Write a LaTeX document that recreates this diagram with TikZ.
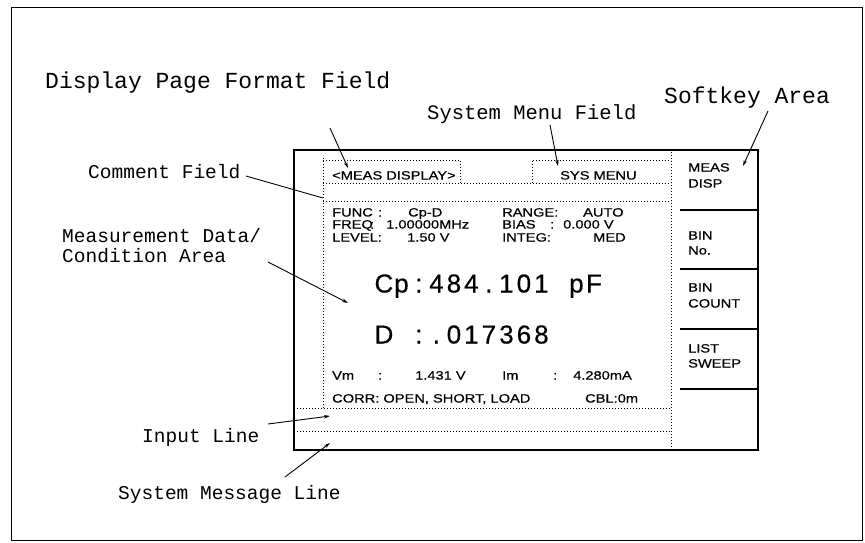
\documentclass[tikz,border=0pt]{standalone}
\usepackage{fontspec}
\usetikzlibrary{arrows.meta}
\newfontfamily\annfont{Liberation Mono}
\newfontfamily\scrfont[FakeStretch=1.22,FakeBold=0.6]{Liberation Sans}
\newfontfamily\bigfont[FakeBold=0.4]{Liberation Sans}
\makeatletter
\newcommand\gridtext[2]{\@tfor\gt@c:=#2\do{\makebox[#1][c]{\gt@c}}}
\makeatother
\tikzset{
  ann/.style={font={\annfont\fontsize{19.5}{20}\selectfont}, anchor=base west, inner sep=0pt},
  annbig/.style={font={\annfont\fontsize{23}{24}\selectfont}, anchor=base west, inner sep=0pt},
  annmid/.style={font={\annfont\fontsize{20.5}{22}\selectfont}, anchor=base west, inner sep=0pt},
  scr/.style={font={\scrfont\fontsize{12}{13}\selectfont}, anchor=base west, inner sep=0pt},
  bigtxt/.style={font={\bigfont\fontsize{26}{28}\selectfont}, anchor=base west, inner sep=0pt},
  dots/.style={line width=0.8pt, dash pattern=on 0.8pt off 2.2pt},
  callout/.style={line width=0.9pt, -{Stealth[length=6pt,width=3.5pt]}},
  solidframe/.style={line width=1.1pt}
}
\begin{document}
\begin{tikzpicture}[x=1pt,y=-1pt]
\useasboundingbox (0,0) rectangle (865,542);
% outer frame
\draw[line width=1pt] (11,7) rectangle (862,540);
% screen
\draw[solidframe] (294,150) rectangle (758,450);
% softkey dividers
\draw[solidframe] (680,210) -- (758,210);
\draw[solidframe] (680,269) -- (758,269);
\draw[solidframe] (680,329) -- (758,329);
\draw[solidframe] (680,389) -- (758,389);
% dotted structure
\draw[dots] (671,152) -- (671,450);
\draw[dots] (323,158) -- (323,408);
\draw[dots] (323,160) -- (460,160) -- (460,183);
\draw[dots] (532,183) -- (532,160) -- (671,160);
\draw[dots] (323,183) -- (671,183);
\draw[dots] (323,201) -- (671,201);
\draw[dots] (294,408) -- (671,408);
\draw[dots] (294,431) -- (671,431);
% header texts
\node[scr] (pg) at (332,179.5) {<MEAS DISPLAY>};
\node[scr] (sys) at (560,179.5) {SYS MENU};
% condition rows
\node[scr] (f1) at (332,216.5) {FUNC};
\node[scr] (f2) at (378,216.5) {:};
\node[scr] (f3) at (408,216.5) {Cp-D};
\node[scr] (f4) at (502,216.5) {RANGE:};
\node[scr] (f5) at (583,216.5) {AUTO};
\node[scr] (q1) at (332,228.5) {FREQ};
\node[scr] (q2) at (370,228.5) {:};
\node[scr] (q3) at (386,228.5) {1.00000MHz};
\node[scr] (q4) at (502,228.5) {BIAS};
\node[scr] (q5) at (550,228.5) {:};
\node[scr] (q6) at (563,228.5) {0.000 V};
\node[scr] (l1) at (332,241.5) {LEVEL:};
\node[scr] (l2) at (407,241.5) {1.50 V};
\node[scr] (l3) at (502,241.5) {INTEG:};
\node[scr] (l4) at (593,241.5) {MED};
% big values
\node[bigtxt] (cp) at (375,292.5) {\gridtext{17.5pt}{Cp:484.101~pF}};
\node[bigtxt] (dd) at (375,343.5) {\gridtext{17.5pt}{D~:.017368}};
% monitor rows
\node[scr] (v1) at (332,379.5) {Vm};
\node[scr] (v2) at (378,379.5) {:};
\node[scr] (v3) at (415,379.5) {1.431 V};
\node[scr] (v4) at (502,379.5) {Im};
\node[scr] (v5) at (553,379.5) {:};
\node[scr] (v6) at (573,379.5) {4.280mA};
\node[scr] (c1) at (332,402.5) {CORR: OPEN, SHORT, LOAD};
\node[scr] (c2) at (585,402.5) {CBL:0m};
% softkeys
\node[scr] (k1a) at (688,171.5) {MEAS};
\node[scr] (k1b) at (688,187.5) {DISP};
\node[scr] (k2a) at (688,239.5) {BIN};
\node[scr] (k2b) at (688,254.5) {No.};
\node[scr] (k3a) at (688,291.5) {BIN};
\node[scr] (k3b) at (688,307.5) {COUNT};
\node[scr] (k4a) at (688,352.5) {LIST};
\node[scr] (k4b) at (688,367.5) {SWEEP};
% annotation labels
\node[annbig] (tDisp) at (45,88) {Display Page Format Field};
\node[annmid] (tSys) at (427,119) {System Menu Field};
\node[annbig] (tSoft) at (664,103) {Softkey Area};
\node[ann] (tCom) at (88,178) {Comment Field};
\node[ann] (tMeas1) at (62,242) {Measurement Data/};
\node[ann] (tMeas2) at (62,262) {Condition Area};
\node[ann] (tIn) at (142,442) {Input Line};
\node[ann] (tMsg) at (118,499) {System Message Line};
% callout end points
\coordinate (aDispS) at (330,128);
\coordinate (aDispE) at (348,168);
\coordinate (aSysS) at (550,125);
\coordinate (aSysE) at (558,166);
\coordinate (aSoftS) at (768,111);
\coordinate (aSoftE) at (743,166);
\coordinate (aComS) at (246,176);
\coordinate (aComE) at (323,198);
\coordinate (aMeasS) at (268,262);
\coordinate (aMeasE) at (348,303);
\coordinate (aInS) at (268,424);
\coordinate (aInE) at (330,416);
\coordinate (aMsgS) at (285,477);
\coordinate (aMsgE) at (330,443);
\draw[callout] (aDispS) -- (aDispE);
\draw[callout] (aSysS) -- (aSysE);
\draw[callout] (aSoftS) -- (aSoftE);
\draw[line width=0.9pt] (aComS) -- (aComE);
\draw[callout] (aMeasS) -- (aMeasE);
\draw[callout] (aInS) -- (aInE);
\draw[callout] (aMsgS) -- (aMsgE);
\end{tikzpicture}
\end{document}
